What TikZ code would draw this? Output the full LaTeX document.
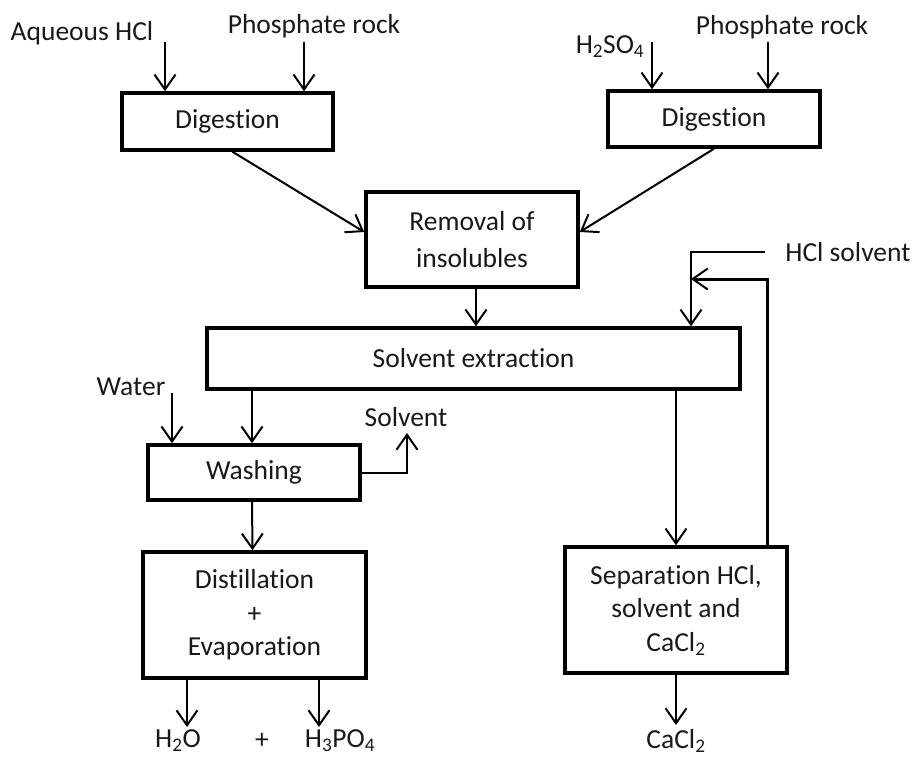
\documentclass[tikz,border=0pt]{standalone}
\usepackage{fontspec}
\setmainfont{Carlito}[Ligatures=NoCommon]
\usetikzlibrary{arrows.meta}

\begin{document}
\begin{tikzpicture}[x=1pt,y=-1pt,
        procbox/.style={draw,line width=3.5pt,fill=white,inner sep=0pt,align=center,text=black!90},
        lbl/.style={inner sep=0pt,text=black!90},
        flow/.style={line width=2pt,-{Straight Barb[length=15pt,width=21pt,line width=2pt]}},
        every node/.style={font=\fontsize{27.5}{33.5}\selectfont}]
        \useasboundingbox (0,0) rectangle (913,758);

        \coordinate (c_dig1) at (227.5,121.5);
        \coordinate (c_dig2) at (714,119);
        \coordinate (c_rem) at (472,239.5);
        \coordinate (c_ext) at (473.5,358.5);
        \coordinate (c_wash) at (254,472.5);
        \coordinate (c_dist) at (254.5,615);
        \coordinate (c_sep) at (676,610);

        \node[procbox,minimum width=211pt,minimum height=57pt] (dig1) at (c_dig1){Digestion};
        \node[procbox,minimum width=212pt,minimum height=56pt] (dig2) at (c_dig2){Digestion};
        \node[procbox,minimum width=212pt,minimum height=95pt] (rem) at (c_rem){Removal of\\[3pt] insolubles};
        \node[procbox,minimum width=533pt,minimum height=61pt] (ext) at (c_ext){Solvent extraction};
        \node[procbox,minimum width=212pt,minimum height=55pt] (wash) at (c_wash){Washing};
        \node[procbox,minimum width=223pt,minimum height=126pt] (dist) at (c_dist){Distillation\\ +\\ Evaporation};
        \node[procbox,minimum width=222pt,minimum height=126pt] (sep) at (c_sep){Separation HCl,\\ solvent and\\ CaCl\textsubscript{2}};

        % feed labels
        \node[lbl] (aqhcl) at (82,33){Aqueous HCl};
        \node[lbl] (rock1) at (314,26){Phosphate rock};
        \node[lbl] (acid) at (610,47){H\textsubscript{2}SO\textsubscript{4}};
        \node[lbl] (rock2) at (782,27){Phosphate rock};
        \node[lbl] (hcl) at (848,252){HCl solvent};
        \node[lbl] (water) at (131,387){Water};
        \node[lbl] (solv) at (406,417){Solvent};
        \node[lbl] (water_out) at (178,741){H\textsubscript{2}O};
        \node[lbl] (plus) at (262,741){+};
        \node[lbl] (acid_out) at (340,741){H\textsubscript{3}PO\textsubscript{4}};
        \node[lbl] (cacl_out) at (676,741){CaCl\textsubscript{2}};

        % free ends
        \coordinate (aq_in) at (165,42);
        \coordinate (rock1_in) at (304,42);
        \coordinate (acid_in) at (652,42);
        \coordinate (rock2_in) at (768,42);
        \coordinate (water_in) at (172,393);
        \coordinate (hcl_turn) at (691,252);
        \coordinate (recyc) at (767,279);
        \coordinate (solv_up) at (407,433);
        \coordinate (h2o_end) at (187,727);
        \coordinate (h3po4_end) at (319,727);
        \coordinate (cacl_end) at (676,725);

        \draw[flow] (aq_in) -- (aq_in |- dig1.north);
        \draw[flow] (rock1_in) -- (rock1_in |- dig1.north);
        \draw[flow] (acid_in) -- (acid_in |- dig2.north);
        \draw[flow] (rock2_in) -- (rock2_in |- dig2.north);

        \draw[flow] ([xshift=5pt]dig1.south) -- ([yshift=7.5pt]rem.west);
        \draw[flow] (dig2.south) -- ([yshift=7.5pt]rem.east);
        \draw[flow] ([xshift=4pt]rem.south) -- ([xshift=4pt]rem.south |- ext.north);

        \draw[flow] ([xshift=-20pt]hcl.west) -- (hcl_turn) -- (hcl_turn |- ext.north);
        \draw[flow,line width=3pt] (recyc |- sep.north) -- (recyc) -- (hcl_turn |- recyc);
        \draw[flow] (sep.north |- ext.south) -- (sep.north);
        \draw[flow] (sep.south) -- (cacl_end);

        \draw[flow] (water_in) -- (water_in |- wash.north);
        \draw[flow] ([xshift=-2pt]wash.north |- ext.south) -- ([xshift=-2pt]wash.north);
        \draw[flow] (wash.east) -| (solv_up);
        \draw[flow] ([xshift=-2pt]wash.south) -- ([xshift=-2pt]dist.north);

        \draw[flow] (h2o_end |- dist.south) -- (h2o_end);
        \draw[flow] (h3po4_end |- dist.south) -- (h3po4_end);
    \end{tikzpicture}
\end{document}
